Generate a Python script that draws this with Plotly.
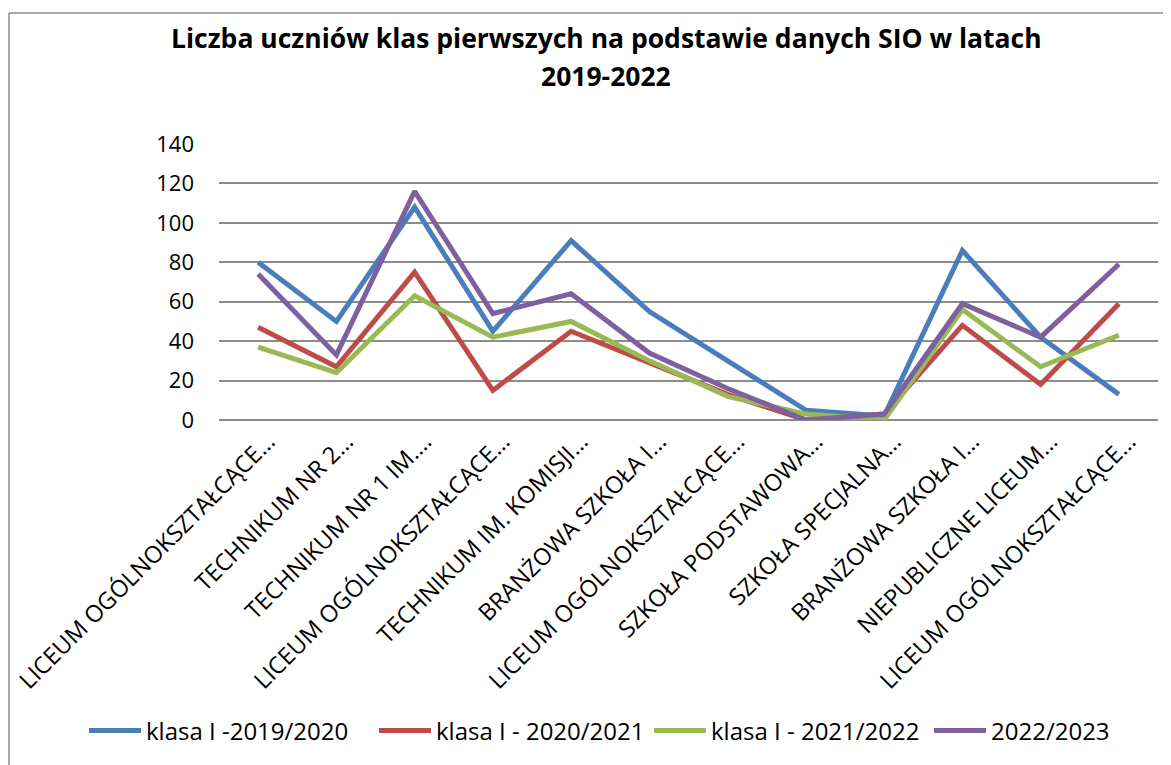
import plotly.graph_objects as go

categories = [
    "LICEUM OGÓLNOKSZTAŁCĄCE…",
    "TECHNIKUM NR 2…",
    "TECHNIKUM NR 1 IM.…",
    "LICEUM OGÓLNOKSZTAŁCĄCE…",
    "TECHNIKUM IM. KOMISJI…",
    "BRANŻOWA SZKOŁA I…",
    "LICEUM OGÓLNOKSZTAŁCĄCE…",
    "SZKOŁA PODSTAWOWA…",
    "SZKOŁA SPECJALNA…",
    "BRANŻOWA SZKOŁA I…",
    "NIEPUBLICZNE LICEUM…",
    "LICEUM OGÓLNOKSZTAŁCĄCE…",
]

klasa_2019 = [80, 50, 108, 45, 91, 55, 30, 5, 2, 86, 42, 13]
klasa_2020 = [47, 27, 75, 15, 45, 29, 13, 0, 3, 48, 18, 59]
klasa_2021 = [37, 24, 63, 42, 50, 30, 12, 3, 0, 56, 27, 43]
klasa_2022 = [74, 33, 116, 54, 64, 34, 16, 0, 3, 59, 42, 79]

series_names = ["klasa I -2019/2020", "klasa I - 2020/2021", "klasa I - 2021/2022", "2022/2023"]
series_values = [klasa_2019, klasa_2020, klasa_2021, klasa_2022]
colors = ["#4A7EBB", "#BE4B48", "#98B954", "#7D60A0"]

x_idx = list(range(len(categories)))

FONT = "Open Sans"
W, H = 1171, 765
OFF = 8  # page body margin offset
SL, SR, ST, SB = 219, 1158, 144, 420
L = SL - OFF
T = ST - OFF
R = W - (SR - OFF)
B = H - (SB - OFF)
pw, ph = W - L - R, H - T - B

def px_x(sx):
    return (sx - OFF - L) / pw

def px_y(sy):
    return (H - B - (sy - OFF)) / ph

legend_ids = ["legend", "legend2", "legend3", "legend4"]
legend_starts = [90, 380, 655, 935]  # screen x where each legend line symbol begins

fig = go.Figure()
for name, vals, col, lid in zip(series_names, series_values, colors, legend_ids):
    fig.add_trace(go.Scatter(
        x=x_idx, y=vals, mode="lines", name=name, legend=lid,
        line=dict(color=col, width=5),
    ))

legend_layout = {}
for lid, sx in zip(legend_ids, legend_starts):
    legend_layout[lid] = dict(
        orientation="h", xref="container", yref="container",
        x=(sx - 6 - OFF) / W, xanchor="left", y=1 - (731 - OFF) / H, yanchor="middle",
        font=dict(size=24, family=FONT), itemwidth=52, bgcolor="rgba(0,0,0,0)",
    )

fig.update_layout(
    width=W, height=H,
    margin=dict(l=L, r=R, t=T, b=B, autoexpand=False),
    paper_bgcolor="white", plot_bgcolor="white",
    font=dict(family=FONT, color="black"),
    showlegend=True,
    xaxis=dict(
        range=[-0.5, len(categories) - 0.5], automargin=False,
        tickmode="array", tickvals=x_idx, ticktext=categories,
        tickangle=-45, tickfont=dict(size=23.5, family=FONT),
        ticklabelshift=10, ticklabelstandoff=2,
        showgrid=False, zeroline=False, showline=False, ticks="",
    ),
    yaxis=dict(
        range=[0, 140], tickmode="linear", tick0=0, dtick=20, automargin=False,
        tickfont=dict(size=22, family=FONT),
        showgrid=True, gridcolor="#8C8C8C", gridwidth=1.5,
        zeroline=True, zerolinecolor="#8C8C8C", zerolinewidth=1.5,
        showline=False, ticks="", ticklabelstandoff=24,
    ),
    annotations=[
        dict(text="<b>Liczba uczniów klas pierwszych na podstawie danych SIO w latach</b>",
             xref="paper", yref="paper", x=px_x(606), y=px_y(38), xanchor="center", yanchor="middle",
             showarrow=False, font=dict(size=26.5, family=FONT, color="black")),
        dict(text="<b>2019-2022</b>",
             xref="paper", yref="paper", x=px_x(606), y=px_y(76), xanchor="center", yanchor="middle",
             showarrow=False, font=dict(size=26.5, family=FONT, color="black")),
    ],
    shapes=[
        dict(type="line", xref="paper", yref="paper",
             x0=px_x(9), x1=px_x(1185), y0=px_y(13), y1=px_y(13),
             line=dict(color="#8C8C8C", width=1.5)),
        dict(type="line", xref="paper", yref="paper",
             x0=px_x(9), x1=px_x(9), y0=px_y(13), y1=px_y(780),
             line=dict(color="#8C8C8C", width=1.5)),
    ],
    **legend_layout,
)

fig.write_html("out.html")
